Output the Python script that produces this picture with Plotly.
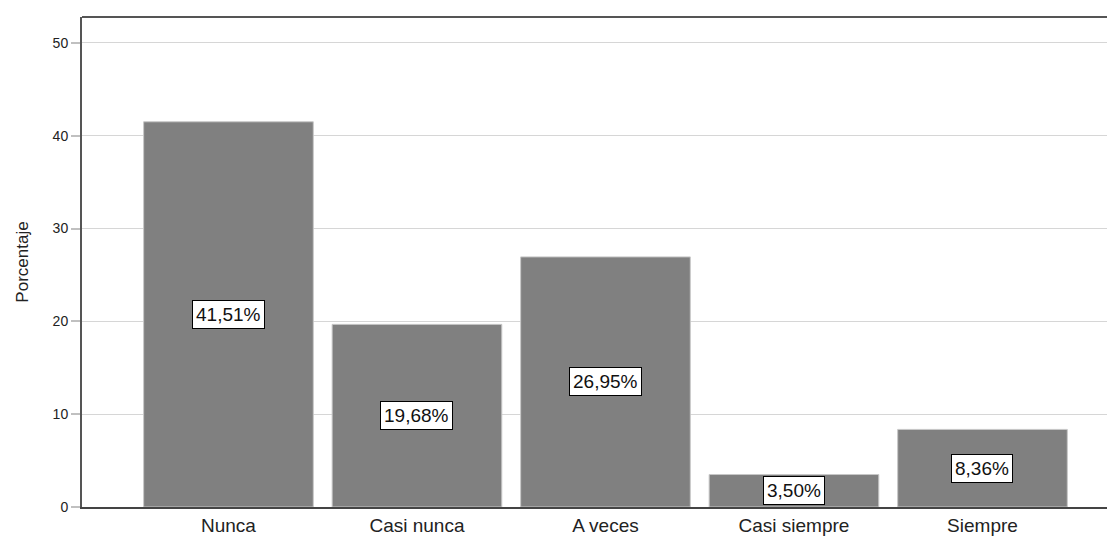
import plotly.graph_objects as go

categories = ["Nunca", "Casi nunca", "A veces", "Casi siempre", "Siempre"]
values = [41.51, 19.68, 26.95, 3.50, 8.36]
labels = ["41,51%", "19,68%", "26,95%", "3,50%", "8,36%"]
yticks = [0, 10, 20, 30, 40, 50]

FONT = "Liberation Sans, Arial, sans-serif"

fig = go.Figure()
fig.add_trace(go.Bar(
    x=categories, y=values,
    marker=dict(color="#808080", line=dict(color="#c8c8c8", width=1)),
    hoverinfo="skip",
))

for c, v, t in zip(categories, values, labels):
    fig.add_annotation(
        x=c, y=v / 2, text=t, showarrow=False,
        font=dict(family=FONT, size=19, color="#111"),
        bgcolor="white", bordercolor="#000", borderwidth=1, borderpad=3,
    )

# top frame line
fig.add_shape(type="line", xref="paper", yref="paper", x0=0, x1=1, y0=1, y1=1,
              line=dict(color="#555555", width=2))

fig.update_layout(
    width=1115, height=540,
    margin=dict(l=74, r=8, t=9, b=41),
    paper_bgcolor="white", plot_bgcolor="white",
    bargap=0.10, showlegend=False,
    font=dict(family=FONT, color="#222"),
)
fig.update_xaxes(
    range=[-0.777, 4.703], showgrid=False,
    showline=True, linecolor="#444444", linewidth=2,
    ticks="", tickfont=dict(size=19, color="#222"),
)
fig.update_yaxes(
    range=[0, 52.8], tickvals=yticks,
    showgrid=True, gridcolor="#d6d6d6", gridwidth=1,
    showline=True, linecolor="#555555", linewidth=2,
    ticks="outside", ticklen=9, tickcolor="#c0c0c0", tickwidth=2,
    tickfont=dict(size=14, color="#222"),
    zeroline=False,
    title=dict(text="Porcentaje", font=dict(family="Liberation Sans Narrow, Arial Narrow, sans-serif", size=17, color="#222"), standoff=20),
)

fig.write_html("out.html")
